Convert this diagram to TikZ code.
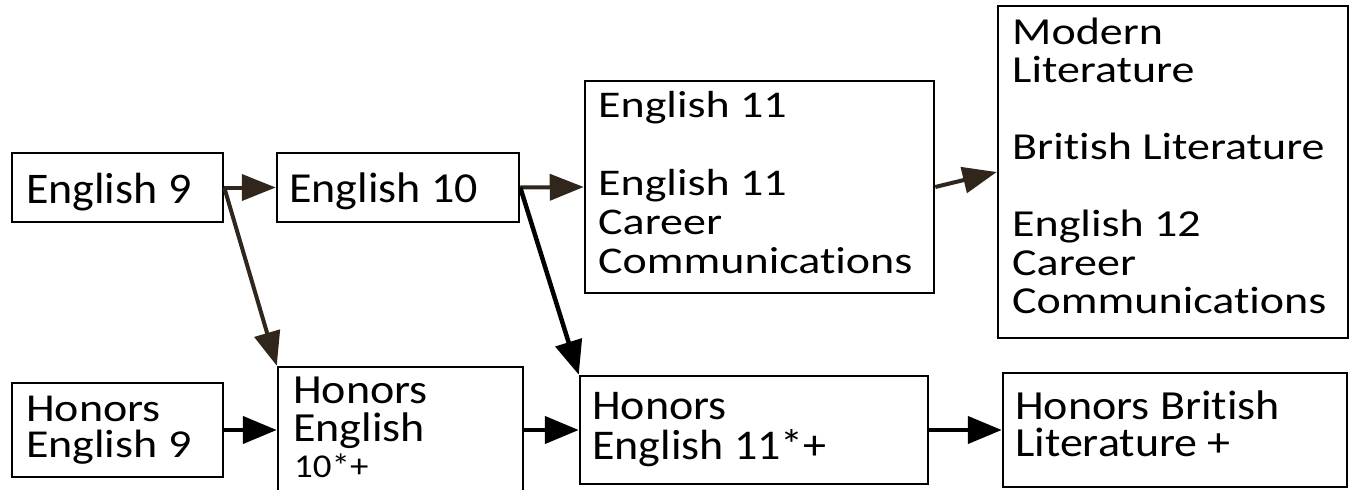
\documentclass[tikz,border=0pt]{standalone}
\usepackage{fontspec}
\setmainfont{Carlito}[Ligatures={NoCommon}]
\usetikzlibrary{arrows.meta,calc}
\definecolor{brn}{RGB}{48,38,28}
\newcommand{\T}[3]{\scalebox{1}[#1]{\vtop{\fontsize{46pt}{#2}\selectfont\baselineskip=#2\relax\lineskiplimit=-1000pt\lineskip=0pt #3}}}
\newcommand{\Ts}[3]{\scalebox{1}[#1]{\vtop{\fontsize{37pt}{#2}\selectfont\baselineskip=#2\relax\lineskiplimit=-1000pt\lineskip=0pt #3}}}
\begin{document}
\begin{tikzpicture}[x=1pt,y=-1pt,
  box/.style={draw=black,line width=2.5pt,rectangle,inner sep=0pt},
  txt/.style={anchor=base west,inner sep=0pt,text=black},
  arrb/.style={draw=brn,line width=4pt,-{Triangle[length=34pt,width=26pt]}},
  arrk/.style={draw=black,line width=4.5pt,-{Triangle[length=34pt,width=27pt]}}]
\clip (0,0) rectangle (1353,490);
\fill[white] (0,0) rectangle (1353,490);
% boxes
\node[box,minimum width=211pt,minimum height=69pt] (e9) at (117.5,187.5) {};
\node[box,minimum width=242pt,minimum height=69pt] (e10) at (398,187.5) {};
\node[box,minimum width=349pt,minimum height=212pt] (e11) at (759.5,187) {};
\node[box,minimum width=350pt,minimum height=332pt] (e12) at (1173,172) {};
\node[box,minimum width=211pt,minimum height=94pt] (h9) at (117.5,430) {};
\node[box,minimum width=245pt,minimum height=133pt] (h10) at (400.5,433.5) {};
\node[box,minimum width=348pt,minimum height=108pt] (h11) at (754,430) {};
\node[box,minimum width=344pt,minimum height=114pt] (hb) at (1175,430) {};
% texts
\node[txt] (te9) at (26,203) {\T{0.95}{40pt}{\hbox{English 9}}};
\node[txt] (te10) at (289,202) {\T{0.93}{40pt}{\hbox{English 10}}};
\node[txt] (te11) at (598,117) {\T{0.82}{47.6pt}{\hbox{English 11}\hbox{}\hbox{English 11}\hbox{Career}\hbox{Communications}}};
\node[txt] (te12) at (1012,44) {\T{0.83}{46.4pt}{\hbox{Modern}\hbox{Literature}\hbox{}\hbox{British Literature}\hbox{}\hbox{English 12}\hbox{Career}\hbox{Communications}}};
\node[txt] (th9) at (26,421) {\T{0.86}{43pt}{\hbox{Honors}\hbox{English 9}}};
\node[txt] (th10) at (293,403) {\T{0.9}{43.3pt}{\hbox{Honors}\hbox{English}}};
\node[txt] (th10b) at (294,477) {\Ts{0.9}{40pt}{\hbox{10*+}}};
\node[txt] (th11) at (592,419) {\T{0.92}{43.5pt}{\hbox{Honors}\hbox{English 11*+}}};
\node[txt] (thb) at (1015,419) {\T{0.9}{42.2pt}{\hbox{Honors British}\hbox{Literature +}}};
% connectors
\draw[arrb] (e9.east) -- (e10.west);
\draw[arrb] (e9.east) -- (h10.north west);
\draw[arrb] (e10.east) -- (e11.west);
\draw[arrk] (e10.east) -- (h11.north west);
\draw[arrb] (e11.east) -- (e12.west);
\draw[arrk] (h9.east) -- (h9.east -| h10.west);
\draw[arrk] (h10.east |- h11.west) -- (h11.west);
\draw[arrk] (h11.east) -- (hb.west);
\end{tikzpicture}
\end{document}
